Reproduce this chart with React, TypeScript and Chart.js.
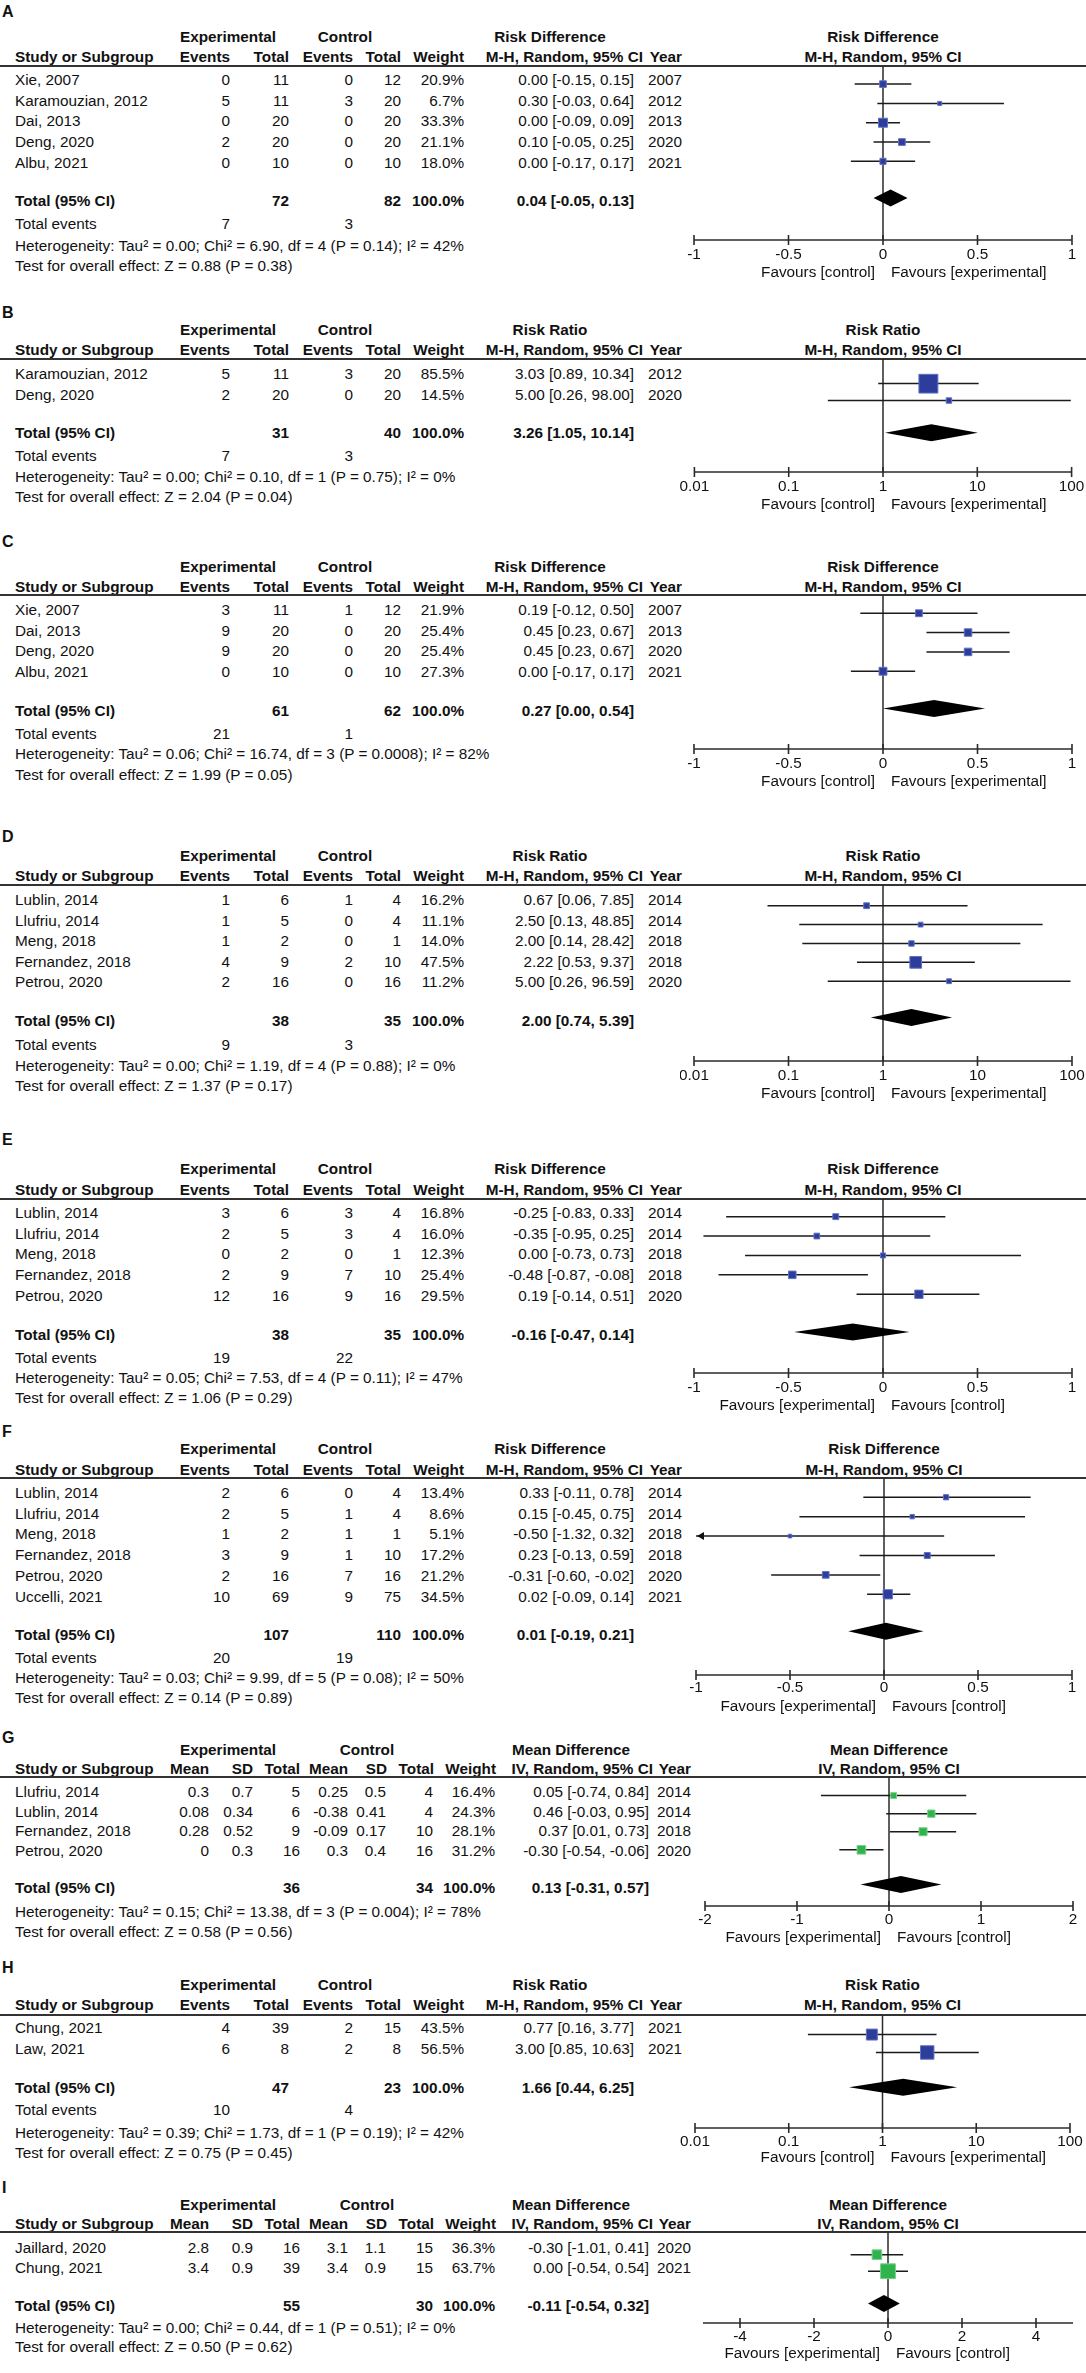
import React, { useEffect, useRef } from 'react';
import { Chart, registerables } from 'chart.js';
Chart.register(...registerables);

// ---------------- DATA ----------------
// A — Risk Difference
const studiesA = ['Xie, 2007', 'Karamouzian, 2012', 'Dai, 2013', 'Deng, 2020', 'Albu, 2021'];
const expEventsA = [0, 5, 0, 2, 0];
const expTotalA = [11, 11, 20, 20, 10];
const ctlEventsA = [0, 3, 0, 0, 0];
const ctlTotalA = [12, 20, 20, 20, 10];
const weightA = [20.9, 6.7, 33.3, 21.1, 18.0];
const estA = [0.0, 0.3, 0.0, 0.1, 0.0];
const loA = [-0.15, -0.03, -0.09, -0.05, -0.17];
const hiA = [0.15, 0.64, 0.09, 0.25, 0.17];
const yearA = [2007, 2012, 2013, 2020, 2021];
const totalA = [0.04, -0.05, 0.13];
const sumA = [72, 82];
const eventsA = [7, 3];
const hetA = 'Heterogeneity: Tau² = 0.00; Chi² = 6.90, df = 4 (P = 0.14); I² = 42%';
const testA = 'Test for overall effect: Z = 0.88 (P = 0.38)';

// B — Risk Ratio
const studiesB = ['Karamouzian, 2012', 'Deng, 2020'];
const expEventsB = [5, 2];
const expTotalB = [11, 20];
const ctlEventsB = [3, 0];
const ctlTotalB = [20, 20];
const weightB = [85.5, 14.5];
const estB = [3.03, 5.0];
const loB = [0.89, 0.26];
const hiB = [10.34, 98.0];
const yearB = [2012, 2020];
const totalB = [3.26, 1.05, 10.14];
const sumB = [31, 40];
const eventsB = [7, 3];
const hetB = 'Heterogeneity: Tau² = 0.00; Chi² = 0.10, df = 1 (P = 0.75); I² = 0%';
const testB = 'Test for overall effect: Z = 2.04 (P = 0.04)';

// C — Risk Difference
const studiesC = ['Xie, 2007', 'Dai, 2013', 'Deng, 2020', 'Albu, 2021'];
const expEventsC = [3, 9, 9, 0];
const expTotalC = [11, 20, 20, 10];
const ctlEventsC = [1, 0, 0, 0];
const ctlTotalC = [12, 20, 20, 10];
const weightC = [21.9, 25.4, 25.4, 27.3];
const estC = [0.19, 0.45, 0.45, 0.0];
const loC = [-0.12, 0.23, 0.23, -0.17];
const hiC = [0.5, 0.67, 0.67, 0.17];
const yearC = [2007, 2013, 2020, 2021];
const totalC = [0.27, 0.0, 0.54];
const sumC = [61, 62];
const eventsC = [21, 1];
const hetC = 'Heterogeneity: Tau² = 0.06; Chi² = 16.74, df = 3 (P = 0.0008); I² = 82%';
const testC = 'Test for overall effect: Z = 1.99 (P = 0.05)';

// D — Risk Ratio
const studiesD = ['Lublin, 2014', 'Llufriu, 2014', 'Meng, 2018', 'Fernandez, 2018', 'Petrou, 2020'];
const expEventsD = [1, 1, 1, 4, 2];
const expTotalD = [6, 5, 2, 9, 16];
const ctlEventsD = [1, 0, 0, 2, 0];
const ctlTotalD = [4, 4, 1, 10, 16];
const weightD = [16.2, 11.1, 14.0, 47.5, 11.2];
const estD = [0.67, 2.5, 2.0, 2.22, 5.0];
const loD = [0.06, 0.13, 0.14, 0.53, 0.26];
const hiD = [7.85, 48.85, 28.42, 9.37, 96.59];
const yearD = [2014, 2014, 2018, 2018, 2020];
const totalD = [2.0, 0.74, 5.39];
const sumD = [38, 35];
const eventsD = [9, 3];
const hetD = 'Heterogeneity: Tau² = 0.00; Chi² = 1.19, df = 4 (P = 0.88); I² = 0%';
const testD = 'Test for overall effect: Z = 1.37 (P = 0.17)';

// E — Risk Difference
const studiesE = ['Lublin, 2014', 'Llufriu, 2014', 'Meng, 2018', 'Fernandez, 2018', 'Petrou, 2020'];
const expEventsE = [3, 2, 0, 2, 12];
const expTotalE = [6, 5, 2, 9, 16];
const ctlEventsE = [3, 3, 0, 7, 9];
const ctlTotalE = [4, 4, 1, 10, 16];
const weightE = [16.8, 16.0, 12.3, 25.4, 29.5];
const estE = [-0.25, -0.35, 0.0, -0.48, 0.19];
const loE = [-0.83, -0.95, -0.73, -0.87, -0.14];
const hiE = [0.33, 0.25, 0.73, -0.08, 0.51];
const yearE = [2014, 2014, 2018, 2018, 2020];
const totalE = [-0.16, -0.47, 0.14];
const sumE = [38, 35];
const eventsE = [19, 22];
const hetE = 'Heterogeneity: Tau² = 0.05; Chi² = 7.53, df = 4 (P = 0.11); I² = 47%';
const testE = 'Test for overall effect: Z = 1.06 (P = 0.29)';

// F — Risk Difference
const studiesF = ['Lublin, 2014', 'Llufriu, 2014', 'Meng, 2018', 'Fernandez, 2018', 'Petrou, 2020', 'Uccelli, 2021'];
const expEventsF = [2, 2, 1, 3, 2, 10];
const expTotalF = [6, 5, 2, 9, 16, 69];
const ctlEventsF = [0, 1, 1, 1, 7, 9];
const ctlTotalF = [4, 4, 1, 10, 16, 75];
const weightF = [13.4, 8.6, 5.1, 17.2, 21.2, 34.5];
const estF = [0.33, 0.15, -0.5, 0.23, -0.31, 0.02];
const loF = [-0.11, -0.45, -1.32, -0.13, -0.6, -0.09];
const hiF = [0.78, 0.75, 0.32, 0.59, -0.02, 0.14];
const yearF = [2014, 2014, 2018, 2018, 2020, 2021];
const totalF = [0.01, -0.19, 0.21];
const sumF = [107, 110];
const eventsF = [20, 19];
const hetF = 'Heterogeneity: Tau² = 0.03; Chi² = 9.99, df = 5 (P = 0.08); I² = 50%';
const testF = 'Test for overall effect: Z = 0.14 (P = 0.89)';

// G — Mean Difference
const studiesG = ['Llufriu, 2014', 'Lublin, 2014', 'Fernandez, 2018', 'Petrou, 2020'];
const expMeanG = [0.3, 0.08, 0.28, 0];
const expSDG = [0.7, 0.34, 0.52, 0.3];
const expTotalG = [5, 6, 9, 16];
const ctlMeanG = [0.25, -0.38, -0.09, 0.3];
const ctlSDG = [0.5, 0.41, 0.17, 0.4];
const ctlTotalG = [4, 4, 10, 16];
const weightG = [16.4, 24.3, 28.1, 31.2];
const estG = [0.05, 0.46, 0.37, -0.3];
const loG = [-0.74, -0.03, 0.01, -0.54];
const hiG = [0.84, 0.95, 0.73, -0.06];
const yearG = [2014, 2014, 2018, 2020];
const totalG = [0.13, -0.31, 0.57];
const sumG = [36, 34];
const hetG = 'Heterogeneity: Tau² = 0.15; Chi² = 13.38, df = 3 (P = 0.004); I² = 78%';
const testG = 'Test for overall effect: Z = 0.58 (P = 0.56)';

// H — Risk Ratio
const studiesH = ['Chung, 2021', 'Law, 2021'];
const expEventsH = [4, 6];
const expTotalH = [39, 8];
const ctlEventsH = [2, 2];
const ctlTotalH = [15, 8];
const weightH = [43.5, 56.5];
const estH = [0.77, 3.0];
const loH = [0.16, 0.85];
const hiH = [3.77, 10.63];
const yearH = [2021, 2021];
const totalH = [1.66, 0.44, 6.25];
const sumH = [47, 23];
const eventsH = [10, 4];
const hetH = 'Heterogeneity: Tau² = 0.39; Chi² = 1.73, df = 1 (P = 0.19); I² = 42%';
const testH = 'Test for overall effect: Z = 0.75 (P = 0.45)';

// I — Mean Difference
const studiesI = ['Jaillard, 2020', 'Chung, 2021'];
const expMeanI = [2.8, 3.4];
const expSDI = [0.9, 0.9];
const expTotalI = [16, 39];
const ctlMeanI = [3.1, 3.4];
const ctlSDI = [1.1, 0.9];
const ctlTotalI = [15, 15];
const weightI = [36.3, 63.7];
const estI = [-0.3, 0.0];
const loI = [-1.01, -0.54];
const hiI = [0.41, 0.54];
const yearI = [2020, 2021];
const totalI = [-0.11, -0.54, 0.32];
const sumI = [55, 30];
const hetI = 'Heterogeneity: Tau² = 0.00; Chi² = 0.44, df = 1 (P = 0.51); I² = 0%';
const testI = 'Test for overall effect: Z = 0.50 (P = 0.62)';

// Axes
const ticksRD = [-1, -0.5, 0, 0.5, 1];
const tickLabelsRD = ['-1', '-0.5', '0', '0.5', '1'];
const rangeRD = [-1, 1];
const ticksRR = [0.01, 0.1, 1, 10, 100];
const tickLabelsRR = ['0.01', '0.1', '1', '10', '100'];
const rangeRR = [0.01, 100];
const ticksMDG = [-2, -1, 0, 1, 2];
const tickLabelsMDG = ['-2', '-1', '0', '1', '2'];
const rangeMDG = [-2, 2];
const ticksMDI = [-4, -2, 0, 2, 4];
const tickLabelsMDI = ['-4', '-2', '0', '2', '4'];
const rangeMDI = [-5, 5];
const favCtl = 'Favours [control]';
const favExp = 'Favours [experimental]';

// ---------------- STYLE / LAYOUT ----------------
const FONT = '"Liberation Sans", Arial, Helvetica, sans-serif';
const FS = 15.3;
const TXT = '#111';
const BLUE = { fill: '#2c3d9c', edge: '#6272c2' };
const GREEN = { fill: '#2fb34c', edge: '#7dd08d' };

const f2 = (v: number) => v.toFixed(2);
const ciText = (e: number, l: number, h: number) => `${f2(e)} [${f2(l)}, ${f2(h)}]`;
const pct = (w: number) => w.toFixed(1) + '%';

type Dich = any;

function dich(letter, measure, studies, c1, c2, c3, c4, weight, est, lo, hi, year, total, sums, events, het, test, log, color, favL, favR) {
  return {
    letter, kind: 'dich', measure, method: 'M-H, Random, 95% CI', studies,
    cells: studies.map((_, i) => [c1[i], c2[i], c3[i], c4[i], pct(weight[i]), ciText(est[i], lo[i], hi[i]), year[i]].map(String)),
    weight, est, lo, hi, total, sums, events, het, test,
    log, range: log ? rangeRR : rangeRD, ticks: log ? ticksRR : ticksRD, tickLabels: log ? tickLabelsRR : tickLabelsRD,
    nullValue: log ? 1 : 0, color, favL, favR,
  };
}
function cont(letter, studies, m1, s1, n1, m2, s2, n2, weight, est, lo, hi, year, total, sums, het, test, range, ticks, tickLabels) {
  return {
    letter, kind: 'cont', measure: 'Mean Difference', method: 'IV, Random, 95% CI', studies,
    cells: studies.map((_, i) => [m1[i], s1[i], n1[i], m2[i], s2[i], n2[i], pct(weight[i]), ciText(est[i], lo[i], hi[i]), year[i]].map(String)),
    weight, est, lo, hi, total, sums, events: null, het, test,
    log: false, range, ticks, tickLabels, nullValue: 0, color: GREEN, favL: favExp, favR: favCtl,
  };
}

const panels = [
  dich('A', 'Risk Difference', studiesA, expEventsA, expTotalA, ctlEventsA, ctlTotalA, weightA, estA, loA, hiA, yearA, totalA, sumA, eventsA, hetA, testA, false, BLUE, favCtl, favExp),
  dich('B', 'Risk Ratio', studiesB, expEventsB, expTotalB, ctlEventsB, ctlTotalB, weightB, estB, loB, hiB, yearB, totalB, sumB, eventsB, hetB, testB, true, BLUE, favCtl, favExp),
  dich('C', 'Risk Difference', studiesC, expEventsC, expTotalC, ctlEventsC, ctlTotalC, weightC, estC, loC, hiC, yearC, totalC, sumC, eventsC, hetC, testC, false, BLUE, favCtl, favExp),
  dich('D', 'Risk Ratio', studiesD, expEventsD, expTotalD, ctlEventsD, ctlTotalD, weightD, estD, loD, hiD, yearD, totalD, sumD, eventsD, hetD, testD, true, BLUE, favCtl, favExp),
  dich('E', 'Risk Difference', studiesE, expEventsE, expTotalE, ctlEventsE, ctlTotalE, weightE, estE, loE, hiE, yearE, totalE, sumE, eventsE, hetE, testE, false, BLUE, favExp, favCtl),
  dich('F', 'Risk Difference', studiesF, expEventsF, expTotalF, ctlEventsF, ctlTotalF, weightF, estF, loF, hiF, yearF, totalF, sumF, eventsF, hetF, testF, false, BLUE, favExp, favCtl),
  cont('G', studiesG, expMeanG, expSDG, expTotalG, ctlMeanG, ctlSDG, ctlTotalG, weightG, estG, loG, hiG, yearG, totalG, sumG, hetG, testG, rangeMDG, ticksMDG, tickLabelsMDG),
  dich('H', 'Risk Ratio', studiesH, expEventsH, expTotalH, ctlEventsH, ctlTotalH, weightH, estH, loH, hiH, yearH, totalH, sumH, eventsH, hetH, testH, true, BLUE, favCtl, favExp),
  cont('I', studiesI, expMeanI, expSDI, expTotalI, ctlMeanI, ctlSDI, ctlTotalI, weightI, estI, loI, hiI, yearI, totalI, sumI, hetI, testI, rangeMDI, ticksMDI, tickLabelsMDI),
];

const layouts = [
  { label: 12, h1: 37, h2: 57, line: 66, row0: 80, pitch: 20.7, total: 201, te: 224, het: 246, test: 266, axis: 240, tick: 255, fav: 273, xL: 694, xR: 1072 },
  { label: 313, h1: 330, h2: 350, line: 359, row0: 374, pitch: 20.7, total: 433, te: 456, het: 477, test: 497, axis: 472, tick: 487, fav: 505, xL: 694, xR: 1072 },
  { label: 542, h1: 567, h2: 587, line: 595, row0: 610, pitch: 20.7, total: 711, te: 734, het: 754, test: 775, axis: 749, tick: 764, fav: 782, xL: 694, xR: 1072 },
  { label: 837, h1: 856, h2: 876, line: 885, row0: 900, pitch: 20.6, total: 1021, te: 1045, het: 1066, test: 1086, axis: 1061, tick: 1076, fav: 1094, xL: 694, xR: 1072 },
  { label: 1140, h1: 1169, h2: 1190, line: 1199, row0: 1213, pitch: 20.7, total: 1335, te: 1358, het: 1378, test: 1398, axis: 1373, tick: 1388, fav: 1406, xL: 694, xR: 1072 },
  { label: 1432, h1: 1449, h2: 1470, line: 1478, row0: 1493, pitch: 20.7, total: 1635, te: 1658, het: 1678, test: 1698, axis: 1675, tick: 1688, fav: 1707, xL: 696, xR: 1072 },
  { label: 1738, h1: 1750, h2: 1769, line: 1777, row0: 1792, pitch: 19.7, total: 1888, te: 0, het: 1912, test: 1932, axis: 1906, tick: 1920, fav: 1938, xL: 705, xR: 1073 },
  { label: 1968, h1: 1985, h2: 2005, line: 2015, row0: 2028, pitch: 20.7, total: 2088, te: 2110, het: 2133, test: 2153, axis: 2128, tick: 2142, fav: 2158, xL: 695, xR: 1070 },
  { label: 2188, h1: 2205, h2: 2224, line: 2232, row0: 2248, pitch: 20, total: 2306, te: 0, het: 2328, test: 2347, axis: 2323, tick: 2337, fav: 2354, xL: 703, xR: 1073 },
];

// column right edges
const DICH_CELL = [230, 289, 353, 401, 464, 634, 682];
const DICH_HEAD = [230, 289, 353, 401, 464, 643, 682];
const DICH_HEAD_TXT = ['Events', 'Total', 'Events', 'Total', 'Weight'];
const CONT_CELL = [209, 253, 300, 348, 386, 433, 495, 649, 691];
const CONT_HEAD = [209, 253, 300, 348, 387, 434, 496, 653, 691];
const CONT_HEAD_TXT = ['Mean', 'SD', 'Total', 'Mean', 'SD', 'Total', 'Weight'];

function T({ x, y, a = 'left', b = false, s = FS, children }: any) {
  const st: any = {
    position: 'absolute', top: y - 9, lineHeight: '18px', fontSize: s, fontWeight: b ? 700 : 400,
    whiteSpace: 'nowrap', fontFamily: FONT, color: TXT,
  };
  if (a === 'left') st.left = x;
  else if (a === 'right') st.right = 1086 - x;
  else { st.left = x - 200; st.width = 400; st.textAlign = 'center'; }
  return <div style={st}>{children}</div>;
}

const forestPlugin = {
  id: 'forest',
  beforeDatasetsDraw(chart: any, _a: any, o: any) {
    const { ctx, scales: { x } } = chart;
    const x0 = x.getPixelForValue(o.nullValue);
    ctx.save();
    ctx.strokeStyle = '#2a2a2a';
    ctx.lineWidth = 1.5;
    ctx.beginPath();
    ctx.moveTo(x0, 0);
    ctx.lineTo(x0, o.axisY);
    ctx.stroke();
    ctx.restore();
  },
  afterDatasetsDraw(chart: any, _a: any, o: any) {
    const { ctx, scales: { x, y }, chartArea } = chart;
    ctx.save();
    // arrows for truncated CIs
    o.lo.forEach((l: number, i: number) => {
      if (l < o.range[0]) {
        const yy = y.getPixelForValue(i);
        const xl = chartArea.left + 1;
        ctx.fillStyle = '#111';
        ctx.beginPath();
        ctx.moveTo(xl, yy);
        ctx.lineTo(xl + 7, yy - 4);
        ctx.lineTo(xl + 7, yy + 4);
        ctx.closePath();
        ctx.fill();
      }
    });
    // diamond
    const [e, l, h] = o.total;
    const yT = y.getPixelForValue(o.totalIdx);
    ctx.fillStyle = '#000';
    ctx.beginPath();
    ctx.moveTo(x.getPixelForValue(l), yT);
    ctx.lineTo(x.getPixelForValue(e), yT - 8.5);
    ctx.lineTo(x.getPixelForValue(h), yT);
    ctx.lineTo(x.getPixelForValue(e), yT + 8.5);
    ctx.closePath();
    ctx.fill();
    // axis
    ctx.strokeStyle = '#2a2a2a';
    ctx.lineWidth = 1.6;
    ctx.beginPath();
    ctx.moveTo(x.getPixelForValue(o.range[0]), o.axisY);
    ctx.lineTo(x.getPixelForValue(o.range[1]), o.axisY);
    ctx.stroke();
    ctx.font = `${FS}px ${FONT}`;
    ctx.fillStyle = TXT;
    ctx.textBaseline = 'middle';
    ctx.textAlign = 'center';
    o.ticks.forEach((t: number, i: number) => {
      const px = x.getPixelForValue(t);
      ctx.beginPath();
      ctx.moveTo(px, o.axisY - 5);
      ctx.lineTo(px, o.axisY + 5);
      ctx.stroke();
      ctx.fillText(o.tickLabels[i], px, o.tickY);
    });
    const x0 = x.getPixelForValue(o.nullValue);
    ctx.textAlign = 'right';
    ctx.fillText(o.favL, x0 - 8, o.favY);
    ctx.textAlign = 'left';
    ctx.fillText(o.favR, x0 + 8, o.favY);
    ctx.restore();
  },
};

function Forest({ p, L }: any) {
  const ref = useRef<HTMLCanvasElement>(null);
  const H = Math.round(L.fav + 12 - L.line);
  useEffect(() => {
    const off = L.row0 - 2.5 - L.line;
    const yMin = -off / L.pitch;
    const yMax = yMin + H / L.pitch;
    const side = (w: number) => 2.7 + 0.19 * w;
    const col = p.color;
    const ciSets = p.est.map((_: number, i: number) => ({
      data: [{ x: p.lo[i], y: i }, { x: p.hi[i], y: i }],
      showLine: true, borderColor: '#1b1b1b', borderWidth: 1.5, pointRadius: 0, order: 2,
    }));
    const squares = {
      data: p.est.map((e: number, i: number) => ({ x: e, y: i })),
      pointStyle: 'rect', pointRadius: p.weight.map((w: number) => side(w) / Math.SQRT2),
      backgroundColor: col.fill, borderColor: col.edge, borderWidth: 1, order: 1, showLine: false,
    };
    const chart = new Chart(ref.current as HTMLCanvasElement, {
      type: 'scatter',
      data: { datasets: [squares, ...ciSets] as any },
      options: {
        animation: false, responsive: false, maintainAspectRatio: false, events: [],
        layout: { padding: { left: L.xL - 680, right: 1086 - L.xR, top: 0, bottom: 0 } },
        scales: {
          x: { type: p.log ? 'logarithmic' : 'linear', min: p.range[0], max: p.range[1], display: false },
          y: { type: 'linear', min: yMin, max: yMax, reverse: true, display: false },
        },
        plugins: {
          legend: { display: false }, tooltip: { enabled: false },
          forest: {
            nullValue: p.nullValue, axisY: L.axis - L.line, tickY: L.tick - L.line, favY: L.fav - L.line,
            ticks: p.ticks, tickLabels: p.tickLabels, favL: p.favL, favR: p.favR, total: p.total,
            totalIdx: (L.total - 1.5 - (L.row0 - 2.5)) / L.pitch, lo: p.lo, range: p.range,
          },
        } as any,
      },
      plugins: [forestPlugin],
    });
    return () => chart.destroy();
  }, []);
  return <canvas ref={ref} width={406} height={H} style={{ position: 'absolute', left: 680, top: L.line, width: 406, height: H }} />;
}

function Panel({ p, L }: any) {
  const isD = p.kind === 'dich';
  const cellX = isD ? DICH_CELL : CONT_CELL;
  const headX = isD ? DICH_HEAD : CONT_HEAD;
  const headT = [...(isD ? DICH_HEAD_TXT : CONT_HEAD_TXT), p.method, 'Year'];
  const xc = (L.xL + L.xR) / 2;
  const nEnd = isD ? [cellX[1], cellX[3], cellX[4], cellX[5]] : [cellX[2], cellX[5], cellX[6], cellX[7]];
  return (
    <>
      <T x={2} y={L.label} b s={16}>{p.letter}</T>
      <T x={228} y={L.h1} a="center" b>Experimental</T>
      <T x={isD ? 345 : 367} y={L.h1} a="center" b>Control</T>
      <T x={isD ? 550 : 571} y={L.h1} a="center" b>{p.measure}</T>
      <T x={xc} y={L.h1} a="center" b>{p.measure}</T>
      <T x={15} y={L.h2} b>Study or Subgroup</T>
      {headT.map((h, i) => <T key={'h' + i} x={headX[i]} y={L.h2} a="right" b>{h}</T>)}
      <T x={xc} y={L.h2} a="center" b>{p.method}</T>
      <div style={{ position: 'absolute', left: 0, top: L.line - 0.75, width: 1086, height: 1.5, background: '#333' }} />
      {p.studies.map((s: string, i: number) => {
        const y = L.row0 + i * L.pitch;
        return (
          <React.Fragment key={'r' + i}>
            <T x={15} y={y}>{s}</T>
            {p.cells[i].map((c: string, j: number) => <T key={j} x={cellX[j]} y={y} a="right">{c}</T>)}
          </React.Fragment>
        );
      })}
      <T x={15} y={L.total} b>Total (95% CI)</T>
      <T x={nEnd[0]} y={L.total} a="right" b>{p.sums[0]}</T>
      <T x={nEnd[1]} y={L.total} a="right" b>{p.sums[1]}</T>
      <T x={nEnd[2]} y={L.total} a="right" b>100.0%</T>
      <T x={nEnd[3]} y={L.total} a="right" b>{ciText(p.total[0], p.total[1], p.total[2])}</T>
      {p.events && (
        <>
          <T x={15} y={L.te}>Total events</T>
          <T x={cellX[0]} y={L.te} a="right">{p.events[0]}</T>
          <T x={cellX[2]} y={L.te} a="right">{p.events[1]}</T>
        </>
      )}
      <T x={15} y={L.het}>{p.het}</T>
      <T x={15} y={L.test}>{p.test}</T>
      <Forest p={p} L={L} />
    </>
  );
}

export default function App() {
  return (
    <div style={{ position: 'absolute', left: 0, top: 0, width: 1086, height: 2373, background: '#fff', overflow: 'hidden' }}>
      {panels.map((p, i) => <Panel key={p.letter} p={p} L={layouts[i]} />)}
    </div>
  );
}
